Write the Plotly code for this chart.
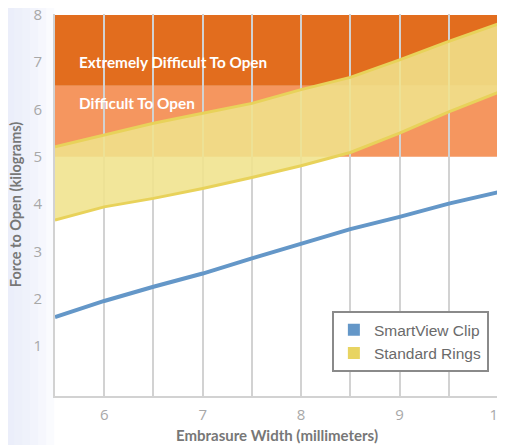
import plotly.graph_objects as go

widths = [5.5, 6.0, 6.5, 7.0, 7.5, 8.0, 8.5, 9.0, 9.5, 10.0]
smartview = [1.61, 1.95, 2.25, 2.53, 2.85, 3.15, 3.47, 3.73, 4.01, 4.25]
rings_low = [3.66, 3.94, 4.12, 4.33, 4.56, 4.81, 5.09, 5.50, 5.95, 6.36]
rings_high = [5.21, 5.46, 5.71, 5.92, 6.13, 6.42, 6.68, 7.05, 7.44, 7.81]
zones = ["Difficult To Open", "Extremely Difficult To Open"]
zone_low = [5.0, 6.5]
zone_high = [6.5, 8.0]
zone_colors = ["#F5965F", "#E26D1E"]
x_ticks = [6, 7, 8, 9, 10]
y_ticks = [1, 2, 3, 4, 5, 6, 7, 8]

fig = go.Figure()

shapes = []
for lo, hi, col in zip(zone_low, zone_high, zone_colors):
    shapes.append(dict(type="rect", xref="x", yref="y", x0=widths[0], x1=widths[-1],
                       y0=lo, y1=hi, fillcolor=col, line=dict(width=0), layer="below"))
# subtle background tint on the left margin
for i in range(6):
    shapes.append(dict(type="rect", xref="paper", yref="paper", x0=-0.11, x1=-0.11 + 0.018 * (i + 1),
                       y0=-0.13, y1=1.02, fillcolor="rgba(228,235,247,0.18)", line=dict(width=0),
                       layer="below"))

band_line = "#E8D25A"
fig.add_trace(go.Scatter(x=widths, y=rings_low, mode="lines",
                         line=dict(color=band_line, width=3), showlegend=False, hoverinfo="skip"))
fig.add_trace(go.Scatter(x=widths, y=rings_high, mode="lines", fill="tonexty",
                         fillcolor="rgba(240,226,140,0.88)",
                         line=dict(color=band_line, width=3), showlegend=False, hoverinfo="skip"))
fig.add_trace(go.Scatter(x=widths, y=smartview, mode="lines",
                         line=dict(color="#6497C8", width=4), showlegend=False))

# legend entries
fig.add_trace(go.Scatter(x=[None], y=[None], mode="markers", name="SmartView Clip",
                         marker=dict(symbol="square", size=19, color="#6497C8")))
fig.add_trace(go.Scatter(x=[None], y=[None], mode="markers", name="Standard Rings",
                         marker=dict(symbol="square", size=19, color="#E8D462")))

label_y = {"Difficult To Open": 6.14, "Extremely Difficult To Open": 7.0}
annotations = []
for name in zones:
    annotations.append(dict(x=widths[0], y=label_y[name], xref="x", yref="y",
                            text="<b>%s</b>" % name, showarrow=False, xanchor="left",
                            xshift=22, font=dict(family="Lato", size=15.3, color="white")))
annotations.append(dict(x=0.5, y=-0.101, xref="paper", yref="paper", yanchor="middle",
                        text="<b>Embrasure Width (millimeters)</b>", showarrow=False,
                        font=dict(family="Lato", size=15, color="#777777")))
annotations.append(dict(x=-0.09, y=0.5, xref="paper", yref="paper", xanchor="center",
                        text="<b>Force to Open (kilograms)</b>", showarrow=False, textangle=-90,
                        font=dict(family="Lato", size=14.5, color="#777777")))

fig.update_layout(
    width=497, height=437,
    margin=dict(l=47, r=7, t=6, b=49),
    paper_bgcolor="white", plot_bgcolor="rgba(0,0,0,0)",
    shapes=shapes, annotations=annotations,
    font=dict(family="Lato", color="#999999"),
    legend=dict(x=0.625, y=0.222, xanchor="left", yanchor="top", traceorder="normal",
                bgcolor="white", bordercolor="#8a8a8a", borderwidth=2,
                font=dict(family="Liberation Sans", size=15.5, color="#6a6a6a"),
                itemsizing="constant", tracegroupgap=6),
    xaxis=dict(range=[widths[0], widths[-1]], tickvals=x_ticks, showgrid=True, automargin=False,
               gridcolor="#d2d2d2", gridwidth=2, zeroline=False,
               minor=dict(dtick=0.5, tick0=5.5, showgrid=True, gridcolor="#d2d2d2", gridwidth=2),
               showline=True, linecolor="#d2d2d2", linewidth=2, ticks="",
               ticklabelstandoff=4, ticklabeloverflow="allow",
               tickfont=dict(size=15, color="#a8a8a8", family="Open Sans")),
    yaxis=dict(range=[-0.06, 8.02], tickvals=y_ticks, showgrid=False, zeroline=False, automargin=False,
               showline=True, linecolor="#d2d2d2", linewidth=2, ticks="",
               ticklabelstandoff=8, ticklabeloverflow="allow",
               tickfont=dict(size=15, color="#a8a8a8", family="Open Sans")),
)

fig.write_html("out.html")
